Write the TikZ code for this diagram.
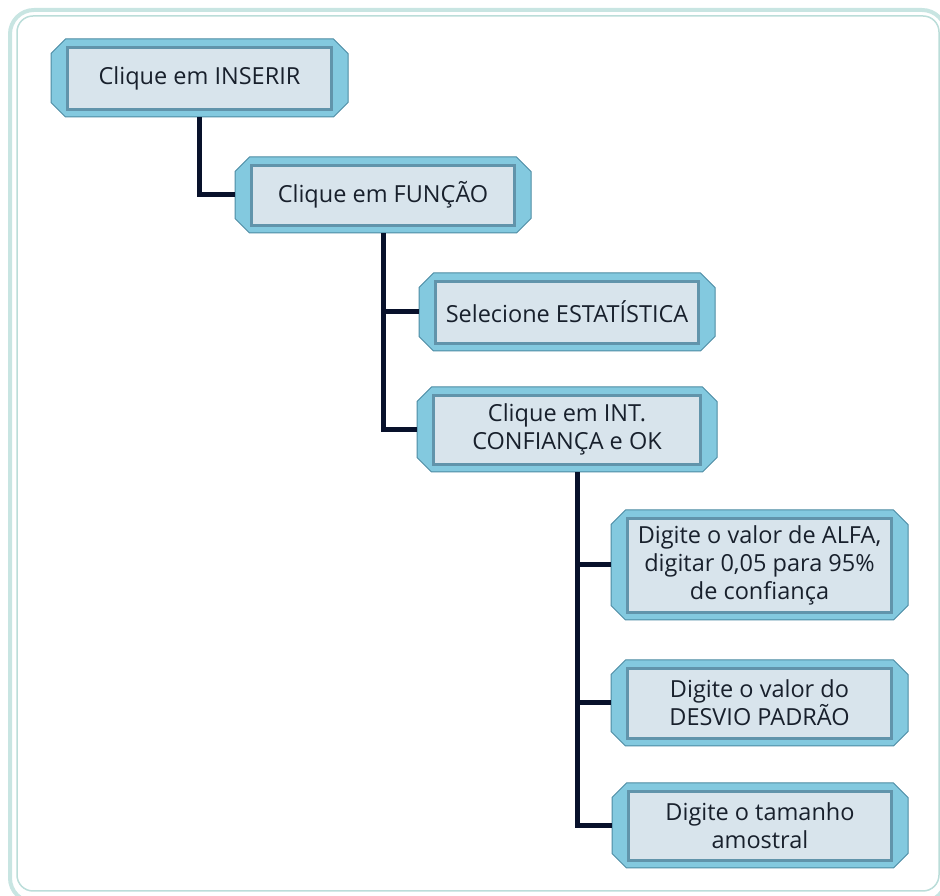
\documentclass[tikz,border=0pt]{standalone}
\usepackage{fontspec}
\setmainfont{Open Sans}
\usetikzlibrary{shapes.misc}

\definecolor{frameteal}{HTML}{C8E5E2}
\definecolor{framethin}{HTML}{BBDDD9}
\definecolor{bandfill}{HTML}{83C9DF}
\definecolor{bandline}{HTML}{4C8BA3}
\definecolor{panelfill}{HTML}{D8E4EC}
\definecolor{panelline}{HTML}{6194AB}
\definecolor{wire}{HTML}{08112B}
\definecolor{ink}{HTML}{18202C}

\tikzset{
  stepbox/.style={
    chamfered rectangle,
    chamfered rectangle xsep=6.5pt,
    chamfered rectangle ysep=8pt,
    inner sep=0pt,
    fill=bandfill, draw=bandline, line width=1pt,
    text=ink, align=center,
    font=\fontsize{23.5}{28}\selectfont,
    path picture={
      \draw[line width=3pt, draw=panelline, fill=panelfill]
        ([xshift=16.5pt,yshift=-8.5pt]path picture bounding box.north west)
        rectangle
        ([xshift=-16.5pt,yshift=7.5pt]path picture bounding box.south east);
    }
  },
  wirelink/.style={draw=wire, line width=5pt}
}

\begin{document}
\begin{tikzpicture}[x=1pt,y=1pt]
  \useasboundingbox (0,0) rectangle (940,896);

  % outer frame: soft teal rim and thin inner rule
  \draw[frameteal, line width=4pt, rounded corners=24pt] (10,886) rectangle (946,-6);
  \draw[framethin, line width=1.5pt, rounded corners=16pt] (17,880) rectangle (939,5);

  % steps
  \node[stepbox, minimum width=297pt, minimum height=78pt] (ins) at (199.5,818) {Clique em INSERIR};
  \node[stepbox, minimum width=296pt, minimum height=76pt] (fun) at (383,701) {Clique em FUNÇÃO};
  \node[stepbox, minimum width=296pt, minimum height=78pt] (est) at (567,584) {Selecione ESTATÍSTICA};
  \node[stepbox, minimum width=300pt, minimum height=85pt] (int) at (567,466.5) {Clique em INT.\\CONFIANÇA e OK};
  \node[stepbox, minimum width=297pt, minimum height=110pt] (alf) at (759.5,331) {Digite o valor de ALFA,\\digitar 0,05 para 95\%\\de confiança};
  \node[stepbox, minimum width=297pt, minimum height=86pt] (dsv) at (759.5,193) {Digite o valor do\\DESVIO PADRÃO};
  \node[stepbox, minimum width=296pt, minimum height=85pt] (tam) at (760,70.5) {Digite o tamanho\\amostral};

  % connectors
  \draw[wirelink] (ins.south) |- (fun.west);
  \draw[wirelink] (fun.south) |- (est.west);
  \draw[wirelink] (fun.south) |- (int.west);
  \draw[wirelink] ([xshift=10pt]int.south) |- (alf.west);
  \draw[wirelink] ([xshift=10pt]int.south) |- (dsv.west);
  \draw[wirelink] ([xshift=10pt]int.south) |- (tam.west);
\end{tikzpicture}
\end{document}
